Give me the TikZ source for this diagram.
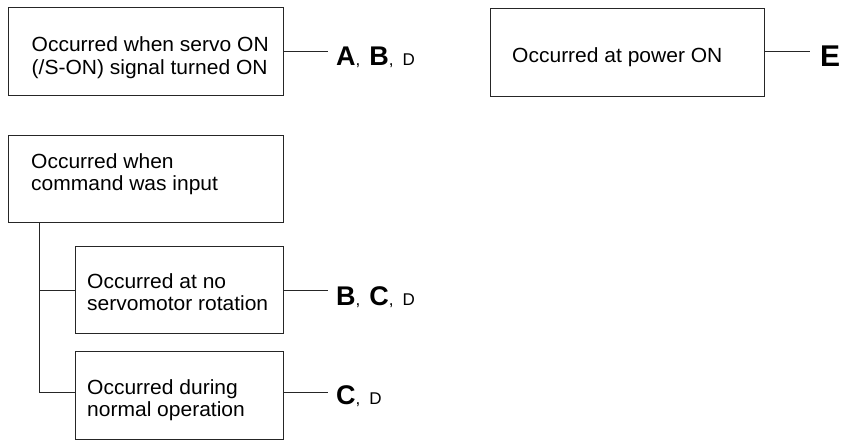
\documentclass[tikz,border=0pt]{standalone}
\usepackage{fontspec}
\setmainfont{Liberation Sans}
\newfontfamily\boxfont{Liberation Sans}[FakeStretch=1.025]
\begin{document}
\begin{tikzpicture}[x=1pt,y=-1pt,
  box/.style={draw=black!85, line width=0.9pt, rectangle, inner sep=0pt, anchor=north west},
  txt/.style={anchor=north west, inner sep=0pt, align=left, font=\boxfont\fontsize{20.5}{22.5}\selectfont},
  link/.style={draw=black!85, line width=0.9pt},
  lab/.style={anchor=base west, inner sep=0pt, font=\fontsize{27}{27}\selectfont}]
\useasboundingbox (0,0) rectangle (842,440);
\newcommand{\BigL}[1]{{\bfseries #1}}
\newcommand{\Cm}{{\fontsize{17}{17}\selectfont,}\hspace{9pt}}
\newcommand{\SmD}{{\fontsize{17}{17}\selectfont D}}
% boxes
\node[box, minimum width=275pt, minimum height=88pt] (b1) at (8,7) {};
\node[box, minimum width=274pt, minimum height=88pt] (b2) at (490,8) {};
\node[box, minimum width=275pt, minimum height=87pt] (b3) at (8,135) {};
\node[box, minimum width=208pt, minimum height=87pt] (b4) at (75,246) {};
\node[box, minimum width=208pt, minimum height=88pt] (b5) at (75,351) {};
% texts
\node[txt] (t1) at (31.5,36.5) {Occurred when servo ON\\(/S-ON) signal turned ON};
\node[txt] (t2) at (512,47) {Occurred at power ON};
\node[txt] (t3) at (31,153) {Occurred when\\command was input};
\node[txt] (t4) at (87,273) {Occurred at no\\servomotor rotation};
\node[txt] (t5) at (87,379) {Occurred during\\normal operation};
% labels
\coordinate (e1) at (328,51);
\coordinate (e2) at (810,51);
\coordinate (e4) at (328,290);
\coordinate (e5) at (328,392);
\node[lab] (l1) at (336,65) {\BigL{A}\Cm\BigL{B}\Cm\SmD};
\node[lab] (l2) at (820,66) {{\fontsize{30}{30}\selectfont\bfseries E}};
\node[lab] (l4) at (336,305) {\BigL{B}\Cm\BigL{C}\Cm\SmD};
\node[lab] (l5) at (336,404) {\BigL{C}\Cm\SmD};
% connectors
\draw[link] (b1.east |- e1) -- (e1);
\draw[link] (b2.east |- e2) -- (e2);
\draw[link] (b4.east |- e4) -- (e4);
\draw[link] (b5.east |- e5) -- (e5);
\coordinate (v0) at (39,222);
\coordinate (v1) at (39,290);
\coordinate (v2) at (39,392);
\draw[link] (b3.south -| v0) -- (v2) -- (b5.west |- v2);
\draw[link] (v1) -- (b4.west |- v1);
\end{tikzpicture}
\end{document}
